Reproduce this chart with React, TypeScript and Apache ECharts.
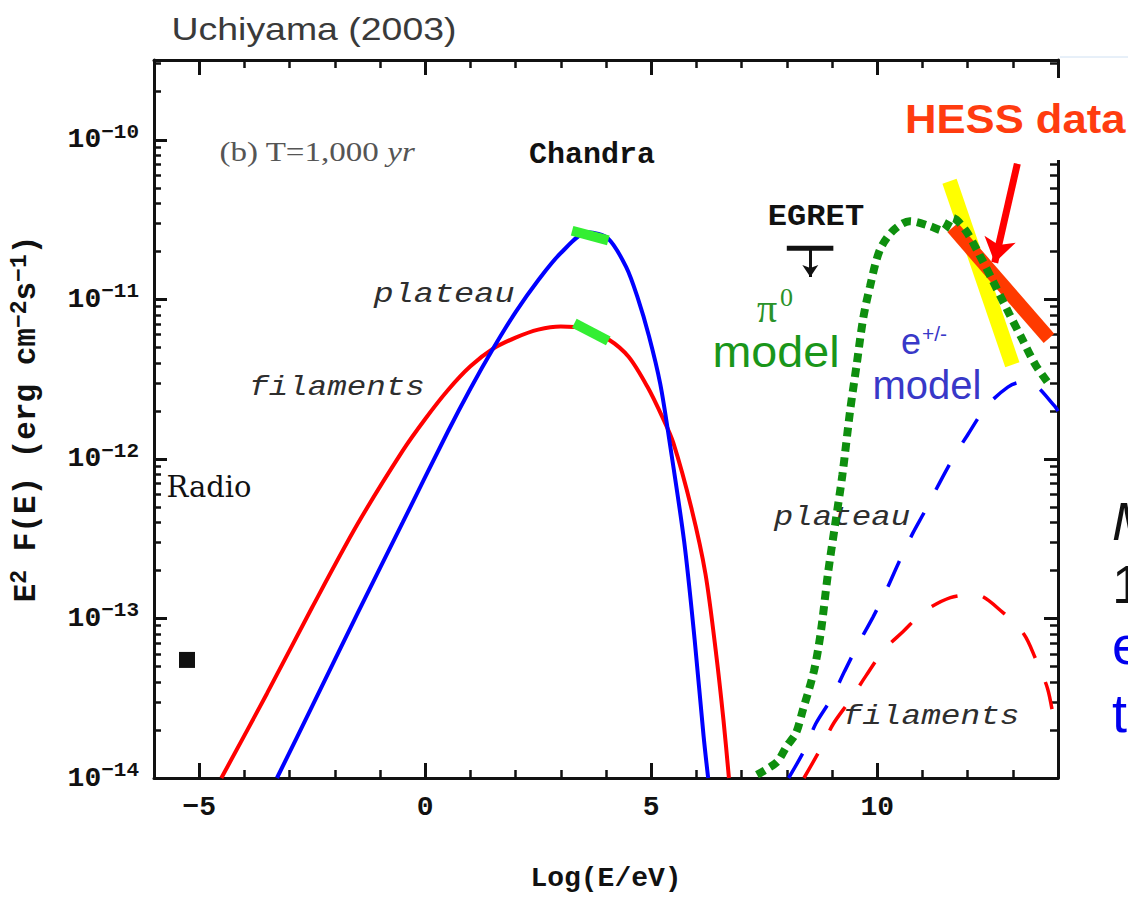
import React, { useEffect, useRef } from "react";
import * as echarts from "echarts";

// ---- axis ticks (x = log10(E/eV), y = log10(E^2 F(E)) ) ----
const xMajorTicks = [-5, 0, 5, 10];
const xMinorTicks = [-4, -3, -2, -1, 1, 2, 3, 4, 6, 7, 8, 9, 11, 12, 13];
const yDecades = [-14, -13, -12, -11, -10];
const yMinorFactors = [2, 3, 4, 5, 6, 7, 8, 9];

// ---- synchrotron, filaments (red solid) ----
const syncFilX = [-4.51, -3.5, -2.5, -1.5, -0.5, 0.0, 0.5, 1.0, 1.5, 2.0, 2.5, 3.0, 3.5, 4.05, 4.5, 4.92, 5.25, 5.49, 5.89, 6.2, 6.44, 6.6, 6.72];
const syncFilY = [-14.0, -13.47, -12.93, -12.41, -11.95, -11.75, -11.57, -11.42, -11.31, -11.24, -11.19, -11.17, -11.18, -11.25, -11.36, -11.55, -11.74, -11.9, -12.31, -12.72, -13.23, -13.64, -14.0];

// ---- synchrotron, plateau (blue solid) ----
const syncPlaX = [-3.28, -2.5, -1.5, -0.5, 0.5, 1.0, 1.5, 2.0, 2.5, 3.0, 3.6, 4.05, 4.45, 4.7, 4.95, 5.2, 5.4, 5.73, 5.96, 6.16, 6.26];
const syncPlaY = [-14.0, -13.55, -12.97, -12.4, -11.83, -11.56, -11.31, -11.08, -10.88, -10.71, -10.58, -10.62, -10.8, -10.99, -11.23, -11.53, -11.88, -12.52, -13.13, -13.74, -14.0];

// ---- Chandra marks (green) ----
const chandraPlaX = [3.25, 4.05];
const chandraPlaY = [-10.57, -10.63];
const chandraFilX = [3.3, 4.05];
const chandraFilY = [-11.15, -11.26];

// ---- inverse Compton, filaments (red dashed) ----
const icFilX = [8.38, 8.74, 9.03, 9.38, 9.75, 10.14, 10.58, 11.02, 11.62, 12.17, 12.77, 13.25, 13.5, 13.77, 13.93, 14.0];
const icFilY = [-14.0, -13.82, -13.66, -13.52, -13.36, -13.2, -13.08, -12.96, -12.87, -12.85, -12.96, -13.1, -13.25, -13.44, -13.66, -13.72];

// ---- inverse Compton, plateau (blue dashed) ----
const icPlaX = [8.04, 8.4, 8.64, 8.99, 9.28, 9.6, 9.91, 10.19, 10.46, 10.78, 11.05, 11.38, 11.69, 12.0, 12.42, 12.89, 13.17, 13.45, 13.93, 14.0];
const icPlaY = [-14.0, -13.82, -13.66, -13.5, -13.33, -13.15, -12.99, -12.83, -12.66, -12.47, -12.33, -12.15, -11.99, -11.85, -11.67, -11.55, -11.52, -11.53, -11.67, -11.7];

// ---- pi0 model (green dotted) ----
const pi0X = [7.34, 7.78, 8.0, 8.2, 8.35, 8.6, 8.75, 8.91, 9.07, 9.23, 9.4, 9.55, 9.69, 9.84, 10.06, 10.35, 10.72, 11.16, 11.45, 11.67, 11.96, 12.26, 12.55, 12.92, 13.21, 13.5, 13.8];
const pi0Y = [-13.98, -13.9, -13.8, -13.72, -13.58, -13.33, -13.09, -12.72, -12.41, -12.1, -11.7, -11.4, -11.12, -10.92, -10.69, -10.57, -10.51, -10.54, -10.57, -10.49, -10.57, -10.72, -10.88, -11.09, -11.25, -11.41, -11.53];

// ---- HESS bands, arrow ----
const yellowBandX = [11.6, 12.99];
const yellowBandY = [-10.26, -11.41];
const hessBandX = [11.67, 13.8];
const hessBandY = [-10.55, -11.245];
const hessArrowX = [13.1, 12.6];
const hessArrowY = [-10.15, -10.77];

// ---- EGRET upper limit ----
const egretBarX = [8.0, 9.03];
const egretBarY = [-10.68, -10.68];
const egretStemX = [8.52, 8.52];
const egretStemY = [-10.68, -10.86];

// ---- Radio point ----
const radioX = [-5.27];
const radioY = [-13.26];

const pairs = (xs: number[], ys: number[]) => xs.map((x, i) => [x, ys[i]]);

const yMinorTicks: number[] = [];
yDecades.forEach((d) => {
  yMinorFactors.forEach((k) => {
    const v = d + Math.log10(k);
    if (v < -9.5) yMinorTicks.push(v);
  });
});

const MONO = "Liberation Mono";
const SANS = "Liberation Sans";
const SERIF = "Liberation Serif";
const INK = "#111";

const supRich = (size: number, supSize: number) => ({
  b: { fontSize: size, fontWeight: "bold", fontFamily: MONO, color: INK, lineHeight: size + 8 },
  s: { fontSize: supSize, fontWeight: "bold", fontFamily: MONO, color: INK, verticalAlign: "top", lineHeight: supSize },
});

const xBase = {
  type: "value",
  min: -6,
  max: 14,
  splitLine: { show: false },
  axisLine: { show: false, onZero: false },
  axisLabel: { show: false },
  axisTick: { show: false },
};
const yBase = {
  type: "value",
  min: -14,
  max: -9.5,
  splitLine: { show: false },
  axisLine: { show: false, onZero: false },
  axisLabel: { show: false },
  axisTick: { show: false },
};
const frameLine = { show: true, onZero: false, lineStyle: { color: INK, width: 3 } };
const majorTick = (len: number, values: number[]) => ({
  show: true,
  inside: true,
  length: len,
  customValues: values,
  lineStyle: { color: INK, width: 3 },
});
const minorTick = (len: number, values: number[]) => ({
  show: true,
  inside: true,
  length: len,
  customValues: values,
  lineStyle: { color: INK, width: 2.5 },
});

const lineSeries = (name: string, data: number[][], color: string, width: number, extra: any = {}) => ({
  name,
  type: "line",
  data,
  symbol: "none",
  silent: true,
  smooth: 0.3,
  lineStyle: { color, width, cap: "butt", ...(extra.lineStyle || {}) },
  ...extra.rest,
});

const option: any = {
  animation: false,
  backgroundColor: "#ffffff",
  grid: { left: 146, right: 70, top: 60, bottom: 105, containLabel: false },
  xAxis: [
    {
      ...xBase,
      position: "bottom",
      axisLine: frameLine,
      axisTick: majorTick(15, xMajorTicks),
      axisLabel: {
        show: true,
        customValues: xMajorTicks,
        margin: 15,
        fontSize: 28,
        fontWeight: "bold",
        fontFamily: MONO,
        color: INK,
        formatter: (v: number) => (v < 0 ? "\u2212" + Math.abs(v) : String(v)),
      },
      name: "Log(E/eV)",
      nameLocation: "middle",
      nameGap: 86,
      nameTextStyle: { fontSize: 28, fontWeight: "bold", fontFamily: MONO, color: INK },
    },
    { ...xBase, position: "bottom", axisTick: minorTick(8, xMinorTicks) },
    { ...xBase, position: "top", axisLine: frameLine, axisTick: majorTick(15, xMajorTicks) },
    { ...xBase, position: "top", axisTick: minorTick(8, xMinorTicks) },
  ],
  yAxis: [
    {
      ...yBase,
      position: "left",
      axisLine: frameLine,
      axisTick: majorTick(13, yDecades),
      axisLabel: {
        show: true,
        customValues: yDecades,
        margin: 15,
        formatter: (v: number) => `{b|10}{s|\u2212${Math.abs(Math.round(v))}}`,
        rich: supRich(28, 21),
      },
      name: "{m|E}{s|2}{m| F(E) (erg cm}{s|\u22122}{m|s}{s|\u22121}{m|)}",
      nameLocation: "middle",
      nameRotate: 90,
      nameGap: 110,
      nameTextStyle: {
        rich: {
          m: { fontSize: 31, fontWeight: "bold", fontFamily: MONO, color: INK, lineHeight: 36 },
          s: { fontSize: 23, fontWeight: "bold", fontFamily: MONO, color: INK, verticalAlign: "top", lineHeight: 23 },
        },
      },
    },
    { ...yBase, position: "left", axisTick: minorTick(7, yMinorTicks) },
    { ...yBase, position: "right", axisLine: frameLine, axisTick: majorTick(14, yDecades) },
    { ...yBase, position: "right", axisTick: minorTick(8, yMinorTicks) },
  ],
  series: [
    lineSeries("sync filaments", pairs(syncFilX, syncFilY), "#ff0000", 4),
    lineSeries("sync plateau", pairs(syncPlaX, syncPlaY), "#0000ff", 4),
    lineSeries("IC filaments", pairs(icFilX, icFilY), "#ff0000", 3.5, { lineStyle: { type: [28, 26] } }),
    lineSeries("IC plateau", pairs(icPlaX, icPlaY), "#0000ff", 3.5, { lineStyle: { type: [28, 26] } }),
    lineSeries("Chandra plateau", pairs(chandraPlaX, chandraPlaY), "#33ee33", 10, { rest: { smooth: false } }),
    lineSeries("Chandra filaments", pairs(chandraFilX, chandraFilY), "#33ee33", 10, { rest: { smooth: false } }),
    lineSeries("HESS yellow", pairs(yellowBandX, yellowBandY), "#ffff00", 15, { rest: { smooth: false } }),
    lineSeries("HESS data", pairs(hessBandX, hessBandY), "#ff3a00", 14, { rest: { smooth: false } }),
    lineSeries("pi0 model", pairs(pi0X, pi0Y), "#0e8f0e", 8, { lineStyle: { type: [9, 6] } }),
    {
      name: "HESS arrow",
      type: "line",
      data: [],
      silent: true,
      markLine: {
        silent: true,
        symbol: ["none", "arrow"],
        symbolSize: 24,
        label: { show: false },
        lineStyle: { color: "#ff0000", width: 7, type: "solid" },
        data: [[{ coord: [hessArrowX[0], hessArrowY[0]] }, { coord: [hessArrowX[1], hessArrowY[1]] }]],
      },
    },
    {
      ...lineSeries("EGRET", pairs(egretBarX, egretBarY), INK, 5, { rest: { smooth: false } }),
      markLine: {
        silent: true,
        symbol: ["none", "arrow"],
        symbolSize: 12,
        label: { show: false },
        lineStyle: { color: INK, width: 3, type: "solid" },
        data: [[{ coord: [egretStemX[0], egretStemY[0]] }, { coord: [egretStemX[1], egretStemY[1]] }]],
      },
    },
    {
      name: "Radio",
      type: "scatter",
      data: pairs(radioX, radioY),
      symbol: "rect",
      symbolSize: 16,
      silent: true,
      itemStyle: { color: INK, opacity: 1 },
    },
  ],
  graphic: [
    { type: "line", shape: { x1: 1060, y1: 57, x2: 1128, y2: 57 }, style: { stroke: "#cfe0f2", lineWidth: 1 } },
    {
      type: "text", x: 314, y: 29, scaleX: 1.17,
      style: { text: "Uchiyama (2003)", fontSize: 32, fontFamily: SANS, fill: "#3a3a3a", align: "center", verticalAlign: "middle" },
    },
    {
      type: "text", x: 317, y: 152, scaleX: 1.18,
      style: {
        text: "{r|(b) T=1,000 }{i|yr}", align: "center", verticalAlign: "middle",
        rich: {
          r: { fontSize: 28, fontFamily: SERIF, fill: "#555" },
          i: { fontSize: 28, fontFamily: SERIF, fontStyle: "italic", fill: "#555" },
        },
      },
    },
    {
      type: "text", x: 592, y: 155,
      style: { text: "Chandra", fontSize: 30, fontWeight: "bold", fontFamily: MONO, fill: INK, align: "center", verticalAlign: "middle" },
    },
    {
      type: "text", x: 816, y: 217, scaleX: 1.07,
      style: { text: "EGRET", fontSize: 30, fontWeight: "bold", fontFamily: MONO, fill: INK, align: "center", verticalAlign: "middle" },
    },
    {
      type: "text", x: 444, y: 294, scaleX: 1.2,
      style: { text: "plateau", fontSize: 28, fontStyle: "italic", fontFamily: MONO, fill: "#2e2e2e", align: "center", verticalAlign: "middle" },
    },
    {
      type: "text", x: 337, y: 388, scaleX: 1.16,
      style: { text: "filaments", fontSize: 28, fontStyle: "italic", fontFamily: MONO, fill: "#2e2e2e", align: "center", verticalAlign: "middle" },
    },
    {
      type: "text", x: 209, y: 487,
      style: { text: "Radio", fontSize: 29, fontFamily: "DejaVu Serif", fill: INK, align: "center", verticalAlign: "middle" },
    },
    {
      type: "text", x: 842, y: 518, scaleX: 1.16,
      style: { text: "plateau", fontSize: 28, fontStyle: "italic", fontFamily: MONO, fill: "#2e2e2e", align: "center", verticalAlign: "middle" },
    },
    {
      type: "text", x: 931, y: 717, scaleX: 1.17,
      style: { text: "filaments", fontSize: 28, fontStyle: "italic", fontFamily: MONO, fill: "#2e2e2e", align: "center", verticalAlign: "middle" },
    },
    {
      type: "text", x: 757, y: 308,
      style: { text: "\u03c0", fontSize: 40, fontFamily: SERIF, fill: "#2a922a", align: "left", verticalAlign: "middle" },
    },
    {
      type: "text", x: 780, y: 297,
      style: { text: "0", fontSize: 26, fontFamily: SERIF, fill: "#2a922a", align: "left", verticalAlign: "middle" },
    },
    {
      type: "text", x: 776, y: 352, scaleX: 1.06,
      style: { text: "model", fontSize: 44, fontFamily: SANS, fill: "#1a961a", align: "center", verticalAlign: "middle" },
    },
    {
      type: "text", x: 911, y: 341,
      style: { text: "e", fontSize: 36, fontFamily: SANS, fill: "#3838c8", align: "center", verticalAlign: "middle" },
    },
    {
      type: "text", x: 922, y: 333,
      style: { text: "+/-", fontSize: 21, fontFamily: SANS, fill: "#3838c8", align: "left", verticalAlign: "middle" },
    },
    {
      type: "text", x: 927, y: 385,
      style: { text: "model", fontSize: 40, fontFamily: SANS, fill: "#3838c8", align: "center", verticalAlign: "middle" },
    },
    { type: "rect", z: 100, shape: { x: 890, y: 78, width: 238, height: 82 }, style: { fill: "#ffffff" } },
    {
      type: "text", z: 101, x: 905, y: 119, scaleX: 1.09,
      style: { text: "HESS data", fontSize: 40, fontWeight: "bold", fontFamily: SANS, fill: "#ff3c0f", align: "left", verticalAlign: "middle" },
    },
    {
      type: "text", x: 1112, y: 521,
      style: { text: "M", fontSize: 54, fontStyle: "italic", fontFamily: SANS, fill: INK, align: "left", verticalAlign: "middle" },
    },
    {
      type: "text", x: 1112, y: 584,
      style: { text: "1", fontSize: 54, fontFamily: SANS, fill: INK, align: "left", verticalAlign: "middle" },
    },
    {
      type: "text", x: 1112, y: 645,
      style: { text: "e", fontSize: 54, fontFamily: SANS, fill: "#0000ee", align: "left", verticalAlign: "middle" },
    },
    {
      type: "text", x: 1112, y: 713,
      style: { text: "t", fontSize: 54, fontFamily: SANS, fill: "#0000ee", align: "left", verticalAlign: "middle" },
    },
  ],
};

export default function App() {
  const ref = useRef<HTMLDivElement>(null);
  useEffect(() => {
    if (!ref.current) return;
    const chart = echarts.init(ref.current, null, { renderer: "svg" });
    chart.setOption(option);
    return () => chart.dispose();
  }, []);
  return (
    <div
      ref={ref}
      style={{ position: "absolute", left: 0, top: 0, width: 1128, height: 897, background: "#ffffff", overflow: "hidden" }}
    />
  );
}
